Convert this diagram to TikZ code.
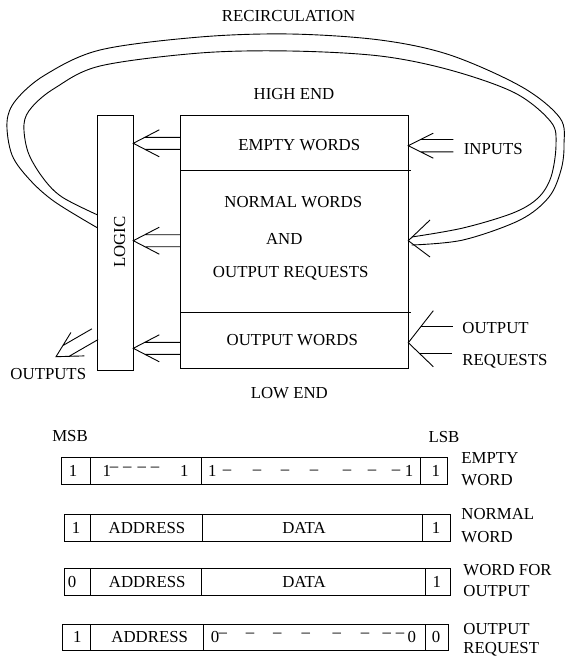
\documentclass[tikz,border=0pt]{standalone}
\usepackage{fontspec}
\setmainfont{Liberation Serif}
\newcommand\dblarrow[6]{\draw[shift={(#1)},rotate=#2] (#3,#4) -- (0,0) -- (#3,-#4) ({#5*#3/#4},#5) -- (#6,#5) ({#5*#3/#4},-#5) -- (#6,-#5);}
\begin{document}
\begin{tikzpicture}[x=1pt,y=-1pt,line width=0.9pt,
  txt/.style={font=\fontsize{16.8}{20}\selectfont, inner sep=0pt, text height=11.1pt, text depth=0pt},
  lbl/.style={txt, anchor=west},
  dsh/.style={font=\fontsize{16.8}{20}\selectfont, inner sep=0pt, anchor=base},
  boxn/.style={draw, inner sep=0pt},
  cellb/.style={draw, inner sep=0pt}]
\useasboundingbox (0,0) rectangle (565,658);

% ---------- main blocks ----------
\node[boxn, minimum width=228pt, minimum height=253pt] (mem) at (294.7,241.8) {};
\node[boxn, minimum width=35.6pt, minimum height=255pt] (logic) at (115.5,243.2) {};
\coordinate (d1l) at (180.7,170);   \coordinate (d1r) at (410.5,170);
\coordinate (d2l) at (180.7,312.7); \coordinate (d2r) at (410.7,312.7);
\draw (d1l) -- (d1r);
\draw (d2l) -- (d2r);

% ---------- texts ----------
\node[txt] (recirc) at (288.6,16) {RECIRCULATION};
\node[txt] (high) at (294,94) {HIGH END};
\node[txt] (empty) at (299.3,145.3) {EMPTY WORDS};
\node[txt] (normal) at (293.3,201.7) {NORMAL WORDS};
\node[txt] (and) at (284.3,239) {AND};
\node[txt] (outreq) at (290.7,271.7) {OUTPUT REQUESTS};
\node[txt] (outw) at (292.3,340) {OUTPUT WORDS};
\node[txt] (low) at (289.3,392.7) {LOW END};
\node[txt, rotate=90] (logict) at (119.5,242.3) {LOGIC};
\node[txt] (inputs) at (493.3,149.3) {INPUTS};
\node[lbl] (orq1) at (462,328) {OUTPUT};
\node[lbl] (orq2) at (462,360) {REQUESTS};
\node[txt] (outputs) at (48.3,374.3) {OUTPUTS};

% ---------- double arrows ----------
\coordinate (t1) at (133.3,143.3);
\coordinate (t2) at (133.3,240.7);
\coordinate (t3) at (133.3,348.3);
\dblarrow{t1}{0}{26}{13.5}{6}{47.4}
\dblarrow{t2}{0}{26}{13.5}{6}{47.4}
\dblarrow{t3}{0}{26}{13.5}{6}{47.4}
\coordinate (tin) at (408.3,145.7);
\dblarrow{tin}{0}{25}{12.5}{6.2}{45}
\coordinate (tout) at (56,356.7);
\dblarrow{tout}{30}{25}{13.5}{6.2}{45}
% output requests arrow
\coordinate (treq) at (408.3,342.7);
\draw (433.3,310.7) -- (treq) -- (433.3,366.7);
\draw (421.3,326) -- (453,326) (419.4,353.3) -- (452,353.3);

% ---------- recirculation loop ----------
\coordinate (trc) at (408.3,240.7);
\draw (430,220) -- (trc) -- (430,257);
\coordinate (ro) at (411.7,245); \coordinate (lo) at (97.7,228);
\coordinate (ri) at (411.7,237); \coordinate (li) at (97.7,215);
\draw plot[smooth, tension=0.55] coordinates {(ro) (463,240) (520,220) (549,197) (561,170) (564,145) (560,118) (522,87) (450,55) (380,40) (290,34) (200,37) (100,50) (45,75) (16,100) (7,122) (12,155) (30,180) (55,202) (lo)};
\draw plot[smooth, tension=0.55] coordinates {(ri) (463,228) (513,213) (538,198) (551,177) (556,145) (551,122) (515,93) (450,70) (380,56) (290,51) (200,53) (100,66) (55,88) (32,107) (24,124) (28,152) (43,178) (62,197) (li)};

% ---------- word formats ----------
\node[txt] (msb) at (70,436) {MSB};
\node[txt] (lsb) at (444,436.7) {LSB};

% row 1
\node[cellb, minimum width=29.7pt, minimum height=27pt] (r1a) at (75.85,471.2) {};
\node[cellb, minimum width=110.6pt, minimum height=27pt] (r1b) at (146,471.2) {};
\node[cellb, minimum width=219.4pt, minimum height=27pt] (r1c) at (311,471.2) {};
\node[cellb, minimum width=27pt, minimum height=27pt] (r1d) at (434.2,471.2) {};
\node[txt] (r1t1) at (73,471.2) {1};
\node[txt] (r1t2) at (106.7,471.2) {1};
\foreach \x [count=\i] in {114,127.3,141.7,155} \node[dsh] (r1s\i) at (\x,471.5) {--};
\node[txt] (r1t3) at (184.3,471.2) {1};
\node[txt] (r1t4) at (212.3,471.2) {1};
\foreach \x [count=\i] in {227,257,285,314,347,372,396} \node[dsh] (r1m\i) at (\x,474.5) {--};
\node[txt] (r1t5) at (409,471.2) {1};
\node[txt] (r1t6) at (435.7,471.2) {1};
\node[lbl] (r1l1) at (461,458.3) {EMPTY};
\node[lbl] (r1l2) at (461,480) {WORD};

% row 2
\node[cellb, minimum width=26.7pt, minimum height=26.7pt] (r2a) at (77.35,527.65) {};
\node[cellb, minimum width=111.6pt, minimum height=26.7pt] (r2b) at (146.5,527.65) {};
\node[cellb, minimum width=220.4pt, minimum height=26.7pt] (r2c) at (312.5,527.65) {};
\node[cellb, minimum width=28pt, minimum height=26.7pt] (r2d) at (436.7,527.65) {};
\node[txt] (r2t1) at (76,527.65) {1};
\node[txt] (r2t2) at (147,527.65) {ADDRESS};
\node[txt] (r2t3) at (304,527.65) {DATA};
\node[txt] (r2t4) at (436,527.65) {1};
\node[lbl] (r2l1) at (461,514.3) {NORMAL};
\node[lbl] (r2l2) at (461,536.5) {WORD};

% row 3
\node[cellb, minimum width=26.7pt, minimum height=26.7pt] (r3a) at (77.35,581.65) {};
\node[cellb, minimum width=110.6pt, minimum height=26.7pt] (r3b) at (146,581.65) {};
\node[cellb, minimum width=223.7pt, minimum height=26.7pt] (r3c) at (313.15,581.65) {};
\node[cellb, minimum width=25.7pt, minimum height=26.7pt] (r3d) at (437.85,581.65) {};
\node[txt] (r3t1) at (72,581.65) {0};
\node[txt] (r3t2) at (147.2,581.65) {ADDRESS};
\node[txt] (r3t3) at (304,581.65) {DATA};
\node[txt] (r3t4) at (436.7,581.65) {1};
\node[lbl] (r3l1) at (463,570) {WORD FOR};
\node[lbl] (r3l2) at (463,590.5) {OUTPUT};

% row 4
\node[cellb, minimum width=28pt, minimum height=25.7pt] (r4a) at (76.7,637.15) {};
\node[cellb, minimum width=112.6pt, minimum height=25.7pt] (r4b) at (147,637.15) {};
\node[cellb, minimum width=221.7pt, minimum height=25.7pt] (r4c) at (314.15,637.15) {};
\node[cellb, minimum width=23pt, minimum height=25.7pt] (r4d) at (436.5,637.15) {};
\node[txt] (r4t1) at (77.3,637.15) {1};
\node[txt] (r4t2) at (149.7,637.15) {ADDRESS};
\node[txt] (r4t3) at (215,637.15) {0};
\foreach \x [count=\i] in {222.7,250,277.3,305.7,336.7,365,386.7,400} \node[dsh] (r4m\i) at (\x,637) {--};
\node[txt] (r4t4) at (411.7,637.15) {0};
\node[txt] (r4t5) at (436,637.15) {0};
\node[lbl] (r4l1) at (463,628.7) {OUTPUT};
\node[lbl] (r4l2) at (463,648.3) {REQUEST};
\end{tikzpicture}
\end{document}
